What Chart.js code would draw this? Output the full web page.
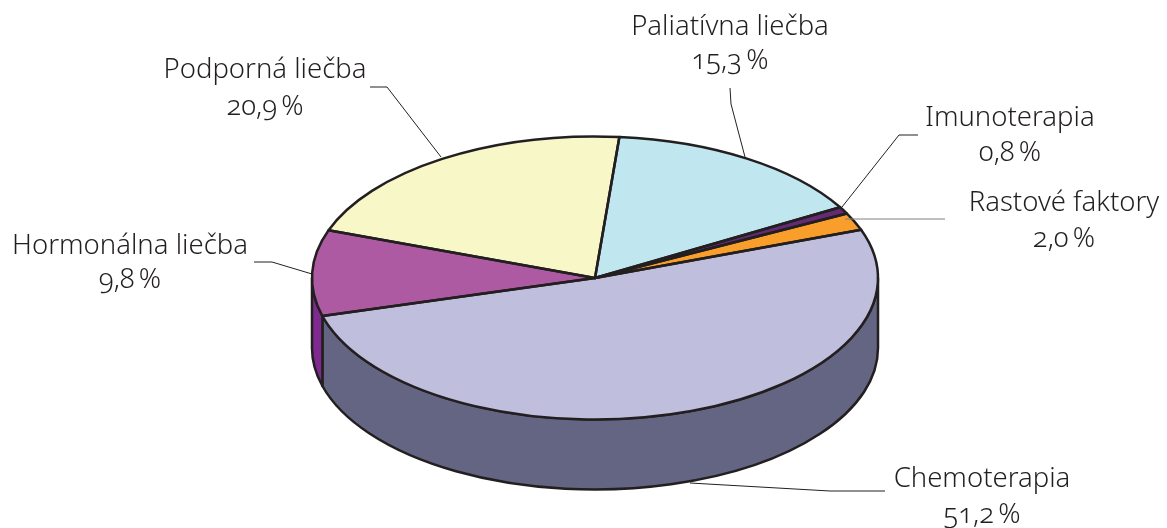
<!DOCTYPE html>
<html>
<head>
<meta charset="utf-8">
<title>Liečba</title>
<script src="https://cdn.jsdelivr.net/npm/chart.js@4/dist/chart.umd.min.js"></script>
<style>
    html, body { margin: 0; padding: 0; background: #fff; overflow: hidden; }
    #wrap { position: relative; width: 1167px; height: 528px; }
    .pie-label {
        position: absolute;
        transform: translate(-50%, -50%);
        white-space: nowrap;
        font-family: "Noto Sans", sans-serif;
        font-weight: 300;
        font-size: 27.5px;
        color: #231f20;
        font-variant-numeric: oldstyle-nums;
        font-feature-settings: "onum" 1;
    }
    .pie-value { word-spacing: -3px; }
</style>
</head>
<body>
<div id="wrap"><canvas id="chart" width="1167" height="528"></canvas></div>
<script>
const categories = ['Chemoterapia', 'Hormonálna liečba', 'Podporná liečba', 'Paliatívna liečba', 'Imunoterapia', 'Rastové faktory'];
const shares = [51.2, 9.8, 20.9, 15.3, 0.8, 2.0];
const topColors = ['#bfbedd', '#ad5aa2', '#f8f7c8', '#c0e6f0', '#652a73', '#f99d2b'];
const wallColors = ['#636583', '#7f2a8e', '#f8f7c8', '#c0e6f0', '#652a73', '#f99d2b'];

// label centres, one pair of y values per label (name line, value line)
const labelX = [982, 130, 265, 730, 1010, 1064];
const labelY = [[476, 512], [243, 277], [67, 104], [24, 58], [115, 150], [200, 236]];
const leaders = [
    [[885, 491], [830, 491], [690, 483]],
    [[254, 262], [272, 262], [312, 274]],
    [[370, 87], [387, 87], [441, 157]],
    [[730, 88], [731, 104], [745, 157]],
    [[918, 135], [899, 135], [842, 207]],
    [[945, 219], [845, 219]]
];

const pieDepth = 70;
const squashX = 2;
const lineColor = '#231f20';

// the bit of a slice's rim that faces the viewer (canvas angles 0..PI)
function frontPart(a1, a2) {
    const full = Math.PI * 2;
    const parts = [];
    for (let k = -1; k <= 1; k++) {
        const from = Math.max(a1, k * full);
        const to = Math.min(a2, k * full + Math.PI);
        if (to > from) parts.push([from, to]);
    }
    return parts;
}

const pie3d = {
    id: 'pie3d',
    beforeDatasetDraw(chart, args) {
        const ctx = chart.ctx;
        const arcs = args.meta.data;
        arcs.forEach(function (arc, i) {
            frontPart(arc.startAngle, arc.endAngle).forEach(function (part) {
                ctx.save();
                ctx.translate(arc.x, arc.y);
                ctx.scale(squashX, 1);
                ctx.beginPath();
                ctx.arc(0, 0, arc.outerRadius, part[0], part[1]);
                ctx.arc(0, pieDepth, arc.outerRadius, part[1], part[0], true);
                ctx.closePath();
                ctx.restore();
                ctx.fillStyle = wallColors[i];
                ctx.fill();
                ctx.strokeStyle = lineColor;
                ctx.lineWidth = 2.5;
                ctx.lineJoin = 'round';
                ctx.stroke();
            });
        });
        ctx.save();
        const c = arcs[0];
        ctx.translate(c.x, c.y);
        ctx.scale(squashX, 1);
        ctx.translate(-c.x, -c.y);
    },
    afterDatasetDraw(chart, args) {
        const ctx = chart.ctx;
        ctx.restore();
        args.meta.data.forEach(function (arc) {
            ctx.save();
            ctx.translate(arc.x, arc.y);
            ctx.scale(squashX, 1);
            ctx.beginPath();
            ctx.moveTo(0, 0);
            ctx.arc(0, 0, arc.outerRadius, arc.startAngle, arc.endAngle);
            ctx.closePath();
            ctx.restore();
            ctx.strokeStyle = lineColor;
            ctx.lineWidth = 2.5;
            ctx.lineJoin = 'round';
            ctx.stroke();
        });
        ctx.lineWidth = 1;
        leaders.forEach(function (pts, n) {
            ctx.strokeStyle = n === 5 ? '#808080' : lineColor;
            ctx.beginPath();
            pts.forEach(function (p, i) {
                if (i === 0) ctx.moveTo(p[0], p[1]); else ctx.lineTo(p[0], p[1]);
            });
            ctx.stroke();
        });
    }
};

new Chart(document.getElementById('chart'), {
    type: 'pie',
    data: {
        labels: categories,
        datasets: [{
            data: shares,
            backgroundColor: topColors,
            borderWidth: 0,
            clip: false
        }]
    },
    options: {
        responsive: false,
        animation: false,
        rotation: 70.1,
        layout: {
            padding: { left: 453.5, right: 430.5, top: 136.5, bottom: 108.5 }
        },
        plugins: {
            legend: { display: false },
            tooltip: { enabled: false }
        }
    },
    plugins: [pie3d]
});

const wrap = document.getElementById('wrap');
function addLabel(text, x, y, cls) {
    const el = document.createElement('div');
    el.className = 'pie-label ' + cls;
    el.textContent = text;
    el.style.left = x + 'px';
    el.style.top = y + 'px';
    wrap.appendChild(el);
}
categories.forEach(function (name, i) {
    addLabel(name, labelX[i], labelY[i][0], 'pie-name');
    addLabel(shares[i].toFixed(1).replace('.', ',') + ' %', labelX[i], labelY[i][1], 'pie-value');
});
</script>
</body>
</html>
